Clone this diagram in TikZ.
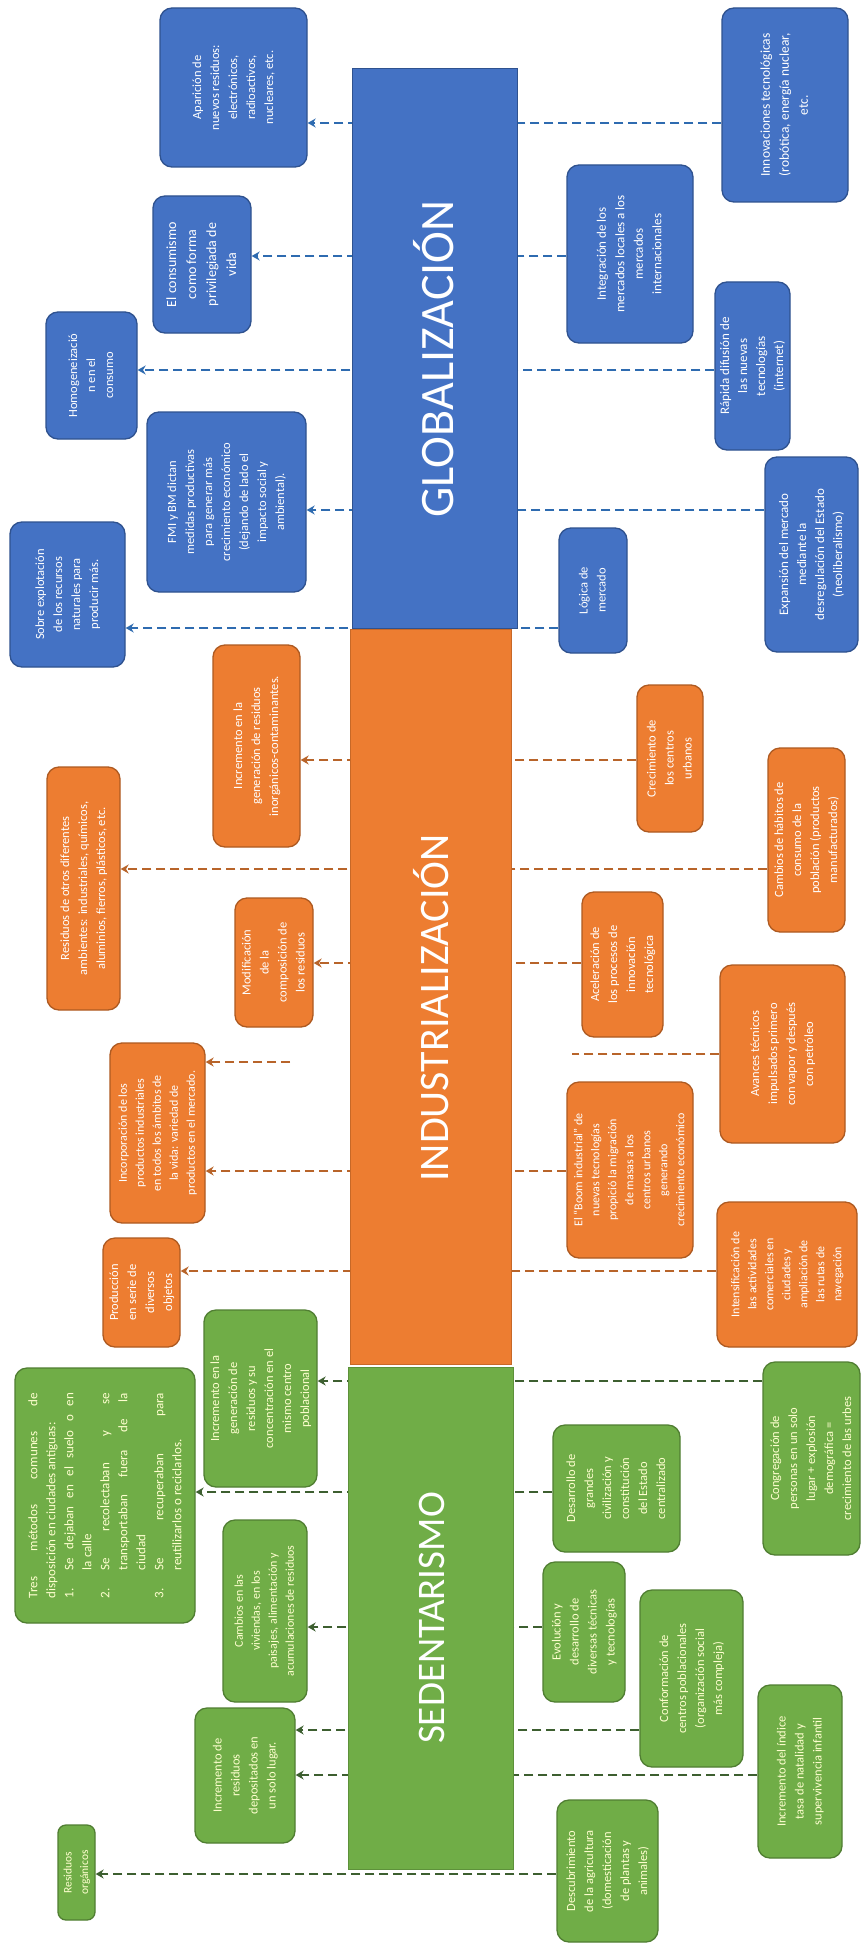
\documentclass[tikz,border=0pt]{standalone}
\usepackage{fontspec}
\setmainfont{Carlito}
\usetikzlibrary{arrows.meta}
\definecolor{bfill}{HTML}{4472C4}
\definecolor{bline}{HTML}{2F528F}
\definecolor{ofill}{HTML}{ED7D31}
\definecolor{oline}{HTML}{AE5A21}
\definecolor{gfill}{HTML}{70AD47}
\definecolor{gline}{HTML}{507E32}
\definecolor{bcon}{HTML}{2E6BB0}
\definecolor{ocon}{HTML}{B8642A}
\definecolor{gcon}{HTML}{3D5F30}
\definecolor{gtext}{HTML}{FFFFD0}
\newcommand{\tbox}[7]{\node[#2, minimum width={(#5-#3)*1pt}, minimum height={(#6-#4)*1pt}] (#1) at ({(#3+#5)/2},{(#4+#6)/2}) {\rotatebox{90}{\begin{tabular}{@{}c@{}}#7\end{tabular}}};}
\tikzset{
  basebox/.style={line width=1.3pt, rounded corners=12pt, inner sep=0pt, font=\fontsize{12.5}{18}\selectfont},
  bbox/.style={basebox, draw=bline, fill=bfill, text=white},
  obox/.style={basebox, draw=oline, fill=ofill, text=white},
  gbox/.style={basebox, draw=gline, fill=gfill, text=gtext},
  conbase/.style={line width=2.2pt, dash pattern=on 9pt off 5pt},
  conB/.style={conbase, draw=bcon, -{Stealth[length=8pt,width=9pt]}},
  conO/.style={conbase, draw=ocon, -{Stealth[length=8pt,width=9pt]}},
  conG/.style={conbase, draw=gcon, -{Stealth[length=8pt,width=9pt]}},
  conOplain/.style={conbase, draw=ocon},
  bar/.style={inner sep=0pt, line width=0.8pt},
  title/.style={inner sep=0pt, text=white}
}
\begin{document}
\begin{tikzpicture}[x=1pt,y=-1pt]
\fill[white] (0,0) rectangle (867,1950);
\useasboundingbox (0,0) rectangle (867,1950);

% ---------- boxes: GLOBALIZACION ----------
\tbox{gl1}{bbox}{160}{8}{307}{167}{Aparición de\\nuevos residuos:\\electrónicos,\\radioactivos,\\nucleares, etc.}
\tbox{gl2}{bbox,font=\fontsize{14}{20}\selectfont}{153}{196}{251}{333}{El consumismo\\como forma\\privilegiada de\\vida}
\tbox{gl3}{bbox}{46}{312}{137}{439}{Homogeneizació\\n en el\\consumo}
\tbox{gl4}{bbox}{147}{412}{306}{592}{FMI y BM dictan\\medidas productivas\\para generar más\\crecimiento económico\\(dejando de lado el\\impacto social y\\ambiental).}
\tbox{gl5}{bbox}{10}{522}{125}{667}{Sobre explotación\\de los recursos\\naturales para\\producir más.}
\tbox{gr1}{bbox,font=\fontsize{13.5}{19}\selectfont}{722}{8}{848}{202}{Innovaciones tecnológicas\\(robótica, energía nuclear,\\etc.}
\tbox{gr2}{bbox,font=\fontsize{13}{18.5}\selectfont}{567}{165}{693}{343}{Integración de los\\mercados locales a los\\mercados\\internacionales}
\tbox{gr3}{bbox,font=\fontsize{13}{18}\selectfont}{715}{282}{790}{450}{Rápida difusión de\\las nuevas\\tecnologías\\(internet)}
\tbox{gr4}{bbox,font=\fontsize{13}{18}\selectfont}{765}{457}{858}{652}{Expansión del mercado\\mediante la\\desregulación del Estado\\(neoliberalismo)}
\tbox{gr5}{bbox}{559}{528}{627}{653}{Lógica de\\mercado}

% ---------- boxes: INDUSTRIALIZACION ----------
\tbox{il1}{obox}{213}{645}{300}{847}{Incremento en la\\generación de residuos\\inorgánicos-contaminantes.}
\tbox{il2}{obox}{47}{767}{120}{1010}{Residuos de otros diferentes\\ambientes: industriales, químicos,\\aluminios, fierros, plásticos, etc.}
\tbox{il3}{obox}{235}{898}{313}{1027}{Modificación\\de la\\composición de\\los residuos}
\tbox{il4}{obox,font=\fontsize{12}{17}\selectfont}{110}{1043}{205}{1223}{Incorporación de los\\productos industriales\\en todos los ámbitos de\\la vida: variedad de\\productos en el mercado.}
\tbox{il5}{obox}{103}{1238}{180}{1347}{Producción\\en serie de\\diversos\\objetos}
\tbox{ir1}{obox}{637}{685}{703}{832}{Crecimiento de\\los centros\\urbanos}
\tbox{ir2}{obox}{768}{748}{845}{932}{Cambios de hábitos de\\consumo de la\\población (productos\\manufacturados)}
\tbox{ir3}{obox}{582}{892}{663}{1037}{Aceleración de\\los procesos de\\innovación\\tecnológica}
\tbox{ir4}{obox}{720}{965}{845}{1143}{Avances técnicos\\impulsados primero\\con vapor y después\\con petróleo}
\tbox{ir5}{obox,font=\fontsize{12}{17}\selectfont}{567}{1082}{693}{1258}{El “Boom industrial” de\\nuevas tecnologías\\propició la migración\\de masas a los\\centros urbanos\\generando\\crecimiento económico}
\tbox{ir6}{obox,font=\fontsize{12}{17}\selectfont}{717}{1202}{857}{1347}{Intensificación de\\las actividades\\comerciales en\\ciudades y\\ampliación de\\las rutas de\\navegación}

% ---------- boxes: SEDENTARISMO ----------
\tbox{sl1}{gbox}{204}{1310}{317}{1487}{Incremento en la\\generación de\\residuos y su\\concentración en el\\mismo centro\\poblacional}
\node[gbox, font=\fontsize{13}{18}\selectfont, minimum width=180pt, minimum height=255pt] (sl2) at (105,1495.5) {\rotatebox{90}{\parbox{205pt}{%
Tres métodos comunes de\linebreak disposición en ciudades antiguas:\par
\hangindent=28pt\hangafter=1\noindent\makebox[28pt][l]{1.}Se dejaban en el suelo o en\linebreak la calle\par
\hangindent=28pt\hangafter=1\noindent\makebox[28pt][l]{2.}Se recolectaban y se\linebreak transportaban fuera de la\linebreak ciudad\par
\hangindent=28pt\hangafter=1\noindent\makebox[28pt][l]{3.}Se recuperaban para\linebreak reutilizarlos o reciclarlos.}}};
\tbox{sl3}{gbox,font=\fontsize{12}{17}\selectfont}{223}{1520}{307}{1702}{Cambios en las\\viviendas, en los\\paisajes, alimentación y\\acumulaciones de residuos}
\tbox{sl4}{gbox}{195}{1708}{295}{1843}{Incremento de\\residuos\\depositados en\\un solo lugar.}
\tbox{sl5}{gbox,font=\fontsize{11.5}{16.5}\selectfont,rounded corners=8pt}{58}{1825}{95}{1920}{Residuos\\orgánicos}
\tbox{sr1}{gbox}{763}{1362}{860}{1555}{Congregación de\\personas en un solo\\lugar + explosión\\demográfica =\\crecimiento de las urbes}
\tbox{sr2}{gbox}{553}{1425}{680}{1552}{Desarrollo de\\grandes\\civilización y\\constitución\\del Estado\\centralizado}
\tbox{sr3}{gbox}{543}{1562}{625}{1702}{Evolución y\\desarrollo de\\diversas técnicas\\y tecnologías}
\tbox{sr4}{gbox}{640}{1590}{743}{1767}{Conformación de\\centros poblacionales\\(organización social\\más compleja)}
\tbox{sr5}{gbox}{758}{1685}{842}{1858}{Incremento del índice\\tasa de natalidad y\\supervivencia infantil}
\tbox{sr6}{gbox}{557}{1800}{658}{1942}{Descubrimiento\\de la agricultura\\(domesticación\\de plantas y\\animales)}

% ---------- connectors (drawn under the bars) ----------
\draw[conB] (gr1.west |- 0,123) -- (gl1.east |- 0,123);
\draw[conB] (gr2.west |- 0,256) -- (gl2.east |- 0,256);
\draw[conB] (gr3.west |- 0,370) -- (gl3.east |- 0,370);
\draw[conB] (gr4.west |- 0,510) -- (gl4.east |- 0,510);
\draw[conB] (gr5.west |- 0,628) -- (gl5.east |- 0,628);
\draw[conO] (ir1.west |- 0,760) -- (il1.east |- 0,760);
\draw[conO] (ir2.west |- 0,869) -- (il2.east |- 0,869);
\draw[conO] (ir3.west |- 0,963) -- (il3.east |- 0,963);
\draw[conO] (ir5.west |- 0,1171) -- (il4.east |- 0,1171);
\draw[conO] (ir6.west |- 0,1271) -- (il5.east |- 0,1271);
\coordinate (ir4end) at (572,1054);
\draw[conOplain] (ir4.west |- ir4end) -- (ir4end);
\coordinate (il4start) at (290,1062);
\draw[conO] (il4start) -- (il4.east |- il4start);
\draw[conG] (sr1.west |- 0,1381) -- (sl1.east |- 0,1381);
\draw[conG] (sr2.west |- 0,1492) -- (sl2.east |- 0,1492);
\draw[conG] (sr3.west |- 0,1627) -- (sl3.east |- 0,1627);
\draw[conG] (sr4.west |- 0,1730) -- (sl4.east |- 0,1730);
\draw[conG] (sr5.west |- 0,1775) -- (sl4.east |- 0,1775);
\draw[conG] (sr6.west |- 0,1874) -- (sl5.east |- 0,1874);

% ---------- central bars ----------
\node[bar, draw=bline, fill=bfill, minimum width=165pt, minimum height=560pt] (barG) at (434.5,348) {};
\node[bar, draw=oline!60!ofill, fill=ofill, minimum width=161pt, minimum height=735pt] (barI) at (430.5,996.5) {};
\node[bar, draw=gline!60!gfill, fill=gfill, minimum width=165pt, minimum height=502pt] (barS) at (430.5,1618) {};
\node[title, font=\fontsize{48}{48}\selectfont] (tG) at (434,359) {\rotatebox{90}{GLOBALIZACIÓN}};
\node[title, font=\fontsize{42}{42}\selectfont] (tI) at (431,1008) {\rotatebox{90}{INDUSTRIALIZACIÓN}};
\node[title, font=\fontsize{39}{39}\selectfont] (tS) at (432,1618) {\rotatebox{90}{SEDENTARISMO}};
\end{tikzpicture}
\end{document}
